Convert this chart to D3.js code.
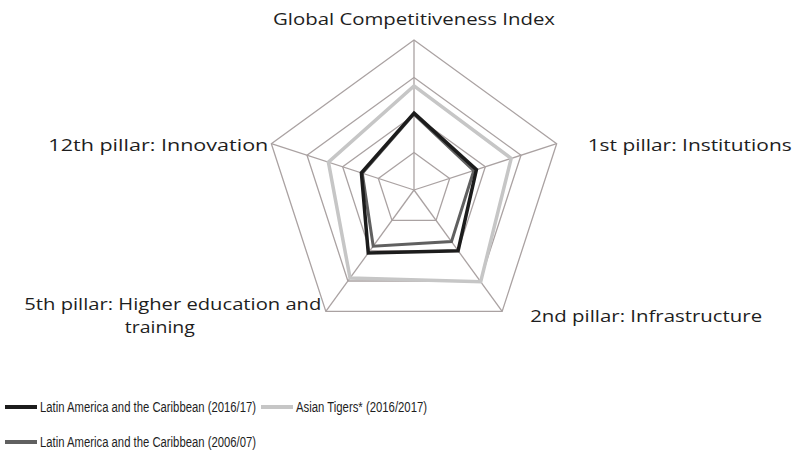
<!DOCTYPE html>
<html>
<head>
<meta charset="utf-8">
<script src="https://cdn.jsdelivr.net/npm/d3@7"></script>
<style>
  html, body { margin: 0; padding: 0; background: #fff; }
  svg { display: block; }
</style>
</head>
<body>
<svg id="chart" width="793" height="456"></svg>
<script>
// ---- data ----
const axes = [
  "Global Competitiveness Index",
  "1st pillar: Institutions",
  "2nd pillar: Infrastructure",
  "5th pillar: Higher education and training",
  "12th pillar: Innovation"
];
const gridTicks = [2, 4, 6, 8];
const seriesNames = [
  "Latin America and the Caribbean (2016/17)",
  "Asian Tigers* (2016/2017)",
  "Latin America and the Caribbean (2006/07)"
];
const lac2016 = [4.1, 3.5, 4.0, 4.15, 2.95];
const tigers2016 = [5.55, 5.45, 6.05, 5.8, 4.8];
const lac2006 = [4.05, 3.35, 3.4, 3.7, 2.9];

// ---- layout ----
const svg = d3.select("#chart");
const cx = 414, cy = 190, R = 150;
const r = d3.scaleLinear().domain([0, 8]).range([0, R]);
const ang = d3.scalePoint().domain(axes).range([0, 2 * Math.PI * 4 / 5]);
const pt = (a, v) => {
  const t = ang(a) - Math.PI / 2;
  return [cx + r(v) * Math.cos(t), cy + r(v) * Math.sin(t)];
};
const gridColor = "#aaa2a2";

// grid pentagons
const g = svg.append("g");
g.selectAll("polygon.grid").data(gridTicks).join("polygon")
  .attr("points", v => axes.map(a => pt(a, v).join(",")).join(" "))
  .attr("fill", "none").attr("stroke", gridColor).attr("stroke-width", 1.3);
// spokes
g.selectAll("line.spoke").data(axes).join("line")
  .attr("x1", cx).attr("y1", cy)
  .attr("x2", a => pt(a, 8)[0]).attr("y2", a => pt(a, 8)[1])
  .attr("stroke", gridColor).attr("stroke-width", 1.3);

// series
const series = [
  { name: seriesNames[1], values: tigers2016, color: "#c6c6c6", w: 3.5 },
  { name: seriesNames[2], values: lac2006, color: "#606060", w: 3 },
  { name: seriesNames[0], values: lac2016, color: "#1c1c1c", w: 3.5 }
];
const line = d3.line().curve(d3.curveLinearClosed);
svg.append("g").selectAll("path").data(series).join("path")
  .attr("d", s => line(axes.map((a, i) => pt(a, s.values[i]))))
  .attr("fill", "none").attr("stroke", s => s.color)
  .attr("stroke-width", s => s.w).attr("stroke-linejoin", "miter");

// axis labels
const labFont = "'Open Sans', 'DejaVu Sans', sans-serif";
const labSize = 16.5;
const lab = svg.append("g").attr("font-family", labFont).attr("font-size", labSize).attr("fill", "#1e1e1e");
function label(a, dx, dy, anchor, lines, widths) {
  const p = pt(a, 8);
  lines.forEach((txt, i) => {
    const t = lab.append("text")
      .attr("x", p[0] + dx[i]).attr("y", p[1] + dy[i])
      .attr("text-anchor", anchor).text(txt);
    if (widths) t.attr("textLength", widths[i]).attr("lengthAdjust", "spacingAndGlyphs");
  });
}
label(axes[0], [0], [-15], "middle", [axes[0]], [282]);
label(axes[1], [31], [7.5], "start", [axes[1]], [204]);
label(axes[2], [28], [11], "start", [axes[2]], [232]);
label(axes[3], [-153, -166], [-1, 22], "middle", ["5th pillar: Higher education and", "training"], [297, 70]);
label(axes[4], [-3], [7.5], "end", [axes[4]], [220]);

// legend
const leg = svg.append("g").attr("font-family", "'Liberation Sans Narrow', 'Liberation Sans', sans-serif")
  .attr("font-size", 14).attr("fill", "#1e1e1e");
const legItems = [
  { s: series[2], x: 5, y: 407, tw: 216 },
  { s: series[0], x: 261, y: 407, tw: 131 },
  { s: series[1], x: 5, y: 442, tw: 216 }
];
legItems.forEach(d => {
  leg.append("line").attr("x1", d.x).attr("x2", d.x + 32).attr("y1", d.y).attr("y2", d.y)
    .attr("stroke", d.s.color).attr("stroke-width", 4);
  leg.append("text").attr("x", d.x + 35).attr("y", d.y + 5)
    .attr("textLength", d.tw).attr("lengthAdjust", "spacingAndGlyphs")
    .text(d.s.name);
});
</script>
</body>
</html>
